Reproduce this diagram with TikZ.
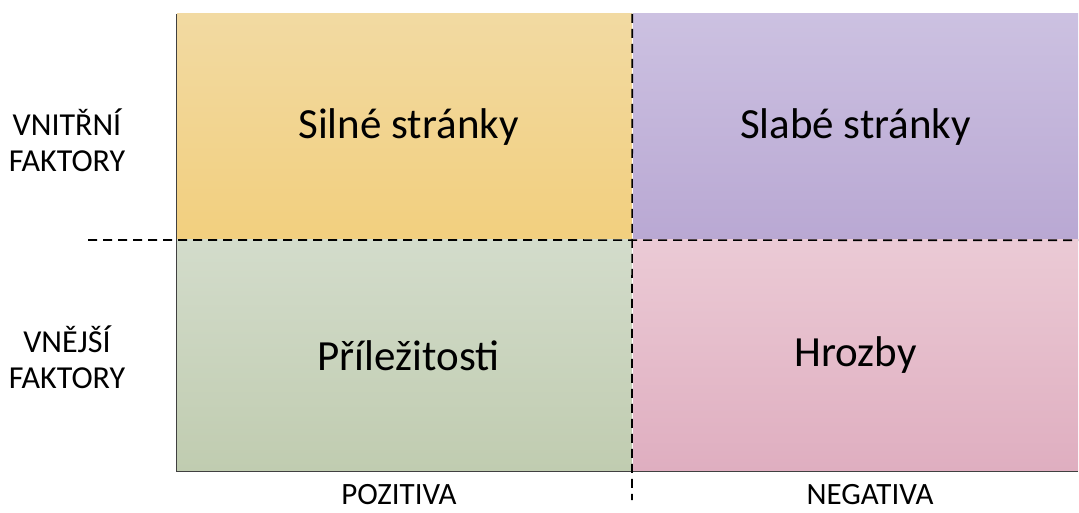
\documentclass[tikz,border=0pt]{standalone}
\usepackage{fontspec}
\setmainfont{Carlito}
\definecolor{sTop}{HTML}{F2DAA2}
\definecolor{sBot}{HTML}{F2CF7E}
\definecolor{wTop}{HTML}{CCC1E1}
\definecolor{wBot}{HTML}{B9A8D3}
\definecolor{oTop}{HTML}{D3DCCB}
\definecolor{oBot}{HTML}{C0CCB0}
\definecolor{tTop}{HTML}{EBCAD5}
\definecolor{tBot}{HTML}{DFAEC0}
\begin{document}
\begin{tikzpicture}[x=1pt,y=-1pt,
  every node/.style={inner sep=0pt,font=\fontsize{43}{48}\selectfont},
  quad/.style={rectangle,minimum height=226pt},
  side/.style={font=\fontsize{32}{36}\selectfont,align=center},
  axis label/.style={font=\fontsize{31}{36}\selectfont,anchor=base},
  cut/.style={dash pattern=on 9pt off 6pt,line width=1.7pt}]
\useasboundingbox (0,0) rectangle (1079,513);
% quadrants
\node[quad,minimum width=455pt,top color=sTop,bottom color=sBot] (S) at (404.5,127) {\hspace{8pt}Silné stránky};
\node[quad,minimum width=445pt,top color=wTop,bottom color=wBot] (W) at (855.5,127) {Slabé stránky};
\node[quad,minimum width=455pt,minimum height=231pt,top color=oTop,bottom color=oBot] (O) at (404.5,355.5) {\hspace{8pt}Příležitosti};
\node[quad,minimum width=445pt,minimum height=231pt,top color=tTop,bottom color=tBot] (T) at (855.5,355.5) {Hrozby};
% side labels
\node[side] (in) at (67,140) {VNITŘNÍ\\FAKTORY};
\node[side] (out) at (67,357) {VNĚJŠÍ\\FAKTORY};
\node[axis label] (pos) at (399,504) {POZITIVA};
\node[axis label] (neg) at (870,504) {NEGATIVA};
% axes
\draw[line width=1.3pt,black!75] (S.north west) -- (O.south west) -- (T.south east);
\coordinate (hl) at (88,240);
\coordinate (vb) at (632,500);
\draw[cut] (hl) -- (W.south east);
\draw[cut] (S.north east) -- (vb);
\end{tikzpicture}
\end{document}
